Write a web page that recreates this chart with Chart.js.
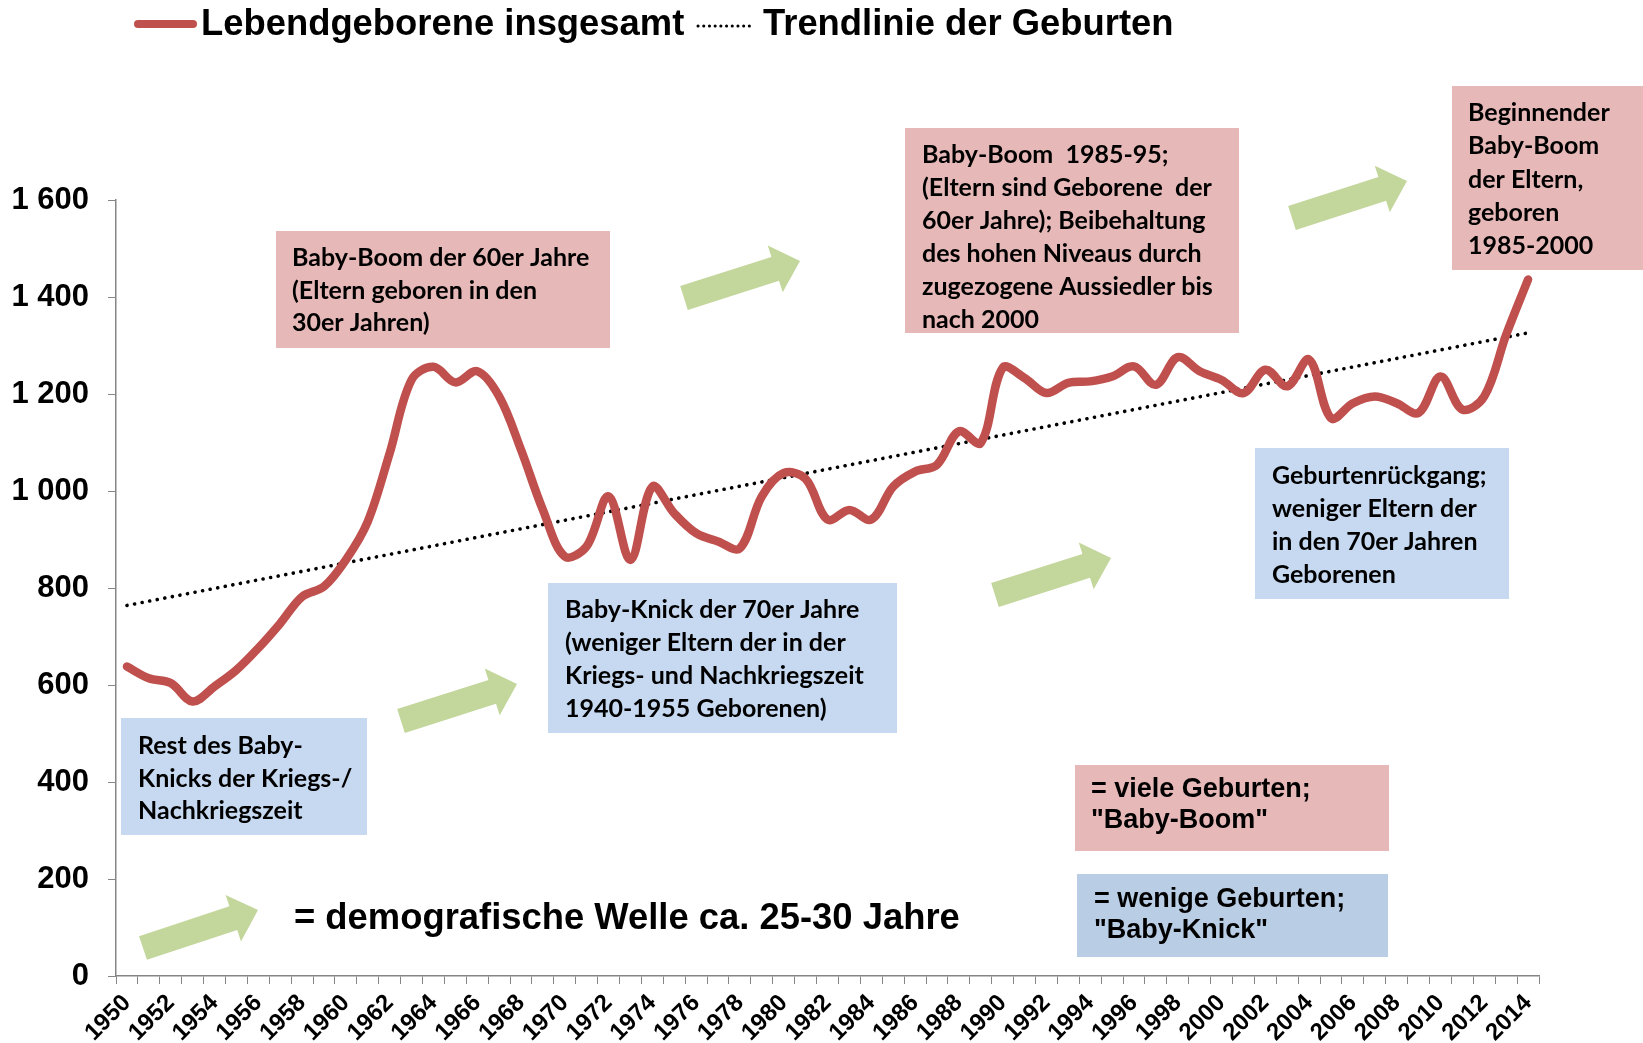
<!DOCTYPE html>
<html lang="de">
<head>
<meta charset="utf-8">
<title>Lebendgeborene 1950-2014</title>
<script src="https://cdn.jsdelivr.net/npm/chart.js@4.4.1/dist/chart.umd.min.js"></script>
<style>
  html, body { margin: 0; padding: 0; background: #fff; }
  #wrap { position: relative; width: 1643px; height: 1043px; }
</style>
</head>
<body>
<div id="wrap"><canvas id="births"></canvas></div>
<script>
// years on the x axis
const years = [
  '1950', '1951', '1952', '1953', '1954', '1955', '1956', '1957', '1958', '1959',
  '1960', '1961', '1962', '1963', '1964', '1965', '1966', '1967', '1968', '1969',
  '1970', '1971', '1972', '1973', '1974', '1975', '1976', '1977', '1978', '1979',
  '1980', '1981', '1982', '1983', '1984', '1985', '1986', '1987', '1988', '1989',
  '1990', '1991', '1992', '1993', '1994', '1995', '1996', '1997', '1998', '1999',
  '2000', '2001', '2002', '2003', '2004', '2005', '2006', '2007', '2008', '2009',
  '2010', '2011', '2012', '2013', '2014'
];

// Lebendgeborene insgesamt
const births = [
  638, 614, 604, 566, 597, 631, 676, 727, 782, 803,
  858, 937, 1078, 1229, 1256, 1224, 1247, 1195, 1085, 961,
  865, 886, 989, 858, 1009, 954, 913, 896, 882, 989,
  1037, 1025, 941, 961, 941, 1009, 1040, 1054, 1123, 1099,
  1254, 1233, 1202, 1223, 1226, 1236, 1257, 1219, 1276, 1247,
  1229, 1202, 1250, 1216, 1271, 1150, 1181, 1195, 1181, 1161,
  1236, 1168, 1195, 1322, 1436
];

// linear trend line, value at 1950 and at 2014
const trendEnds = [764, 1326];

const RED = '#C0504D';
const PINK = '#E6B9B8';
const BLUE = '#C6D9F1';
const BLUE_KEY = '#B9CDE5';
const GREEN = '#C3D69B';
const AXIS = '#868686';
const BOX_FONT = 'bold 25px Lato, "Open Sans", sans-serif';
const KEY_FONT = 'bold 27px "Liberation Sans", Arial, sans-serif';
const BIG_FONT = 'bold 36.4px "Liberation Sans", Arial, sans-serif';

const trend = years.map((y, i) =>
  i === 0 ? trendEnds[0] : i === years.length - 1 ? trendEnds[1] : null);

// text boxes on the chart
const notes = [
  {x: 276, y: 231, w: 334, h: 117, fill: PINK, font: BOX_FONT, tx: 292, base: 266, step: 32.5,
    lines: ['Baby-Boom der 60er Jahre', '(Eltern geboren in den', '30er Jahren)']},
  {x: 905, y: 128, w: 334, h: 205, fill: PINK, font: BOX_FONT, tx: 922, base: 163, step: 33,
    lines: ['Baby-Boom  1985-95;', '(Eltern sind Geborene  der', '60er Jahre); Beibehaltung',
      'des hohen Niveaus durch', 'zugezogene Aussiedler bis', 'nach 2000']},
  {x: 1452, y: 86, w: 191, h: 184, fill: PINK, font: BOX_FONT, tx: 1468, base: 121, step: 33.3,
    lines: ['Beginnender', 'Baby-Boom', 'der Eltern,', 'geboren', '1985-2000']},
  {x: 121, y: 718, w: 246, h: 117, fill: BLUE, font: BOX_FONT, tx: 138, base: 754, step: 32.5,
    lines: ['Rest des Baby-', 'Knicks der Kriegs-/', 'Nachkriegszeit']},
  {x: 548, y: 583, w: 349, h: 150, fill: BLUE, font: BOX_FONT, tx: 565, base: 618, step: 33,
    lines: ['Baby-Knick der 70er Jahre', '(weniger Eltern der in der',
      'Kriegs- und Nachkriegszeit', '1940-1955 Geborenen)']},
  {x: 1255, y: 448, w: 254, h: 151, fill: BLUE, font: BOX_FONT, tx: 1272, base: 484, step: 33,
    lines: ['Geburtenrückgang;', 'weniger Eltern der', 'in den 70er Jahren', 'Geborenen']},
  {x: 1075, y: 765, w: 314, h: 86, fill: PINK, font: KEY_FONT, tx: 1091, base: 797, step: 31,
    lines: ['= viele Geburten;', '"Baby-Boom"']},
  {x: 1077, y: 874, w: 311, h: 83, fill: BLUE_KEY, font: KEY_FONT, tx: 1094, base: 907, step: 31,
    lines: ['= wenige Geburten;', '"Baby-Knick"']}
];

// green arrows: tail x, tail y, tip x, tip y
const arrows = [
  [401, 721, 517, 684],
  [684, 298, 800, 261],
  [995, 595, 1111, 558],
  [1292, 218, 1407, 181],
  [143, 948, 258, 910]
];

const drawArrow = (ctx, x0, y0, x1, y1) => {
  const len = Math.hypot(x1 - x0, y1 - y0);
  const head = 26;
  ctx.save();
  ctx.translate(x0, y0);
  ctx.rotate(Math.atan2(y1 - y0, x1 - x0));
  ctx.beginPath();
  ctx.moveTo(0, -12.5);
  ctx.lineTo(len - head, -12.5);
  ctx.lineTo(len - head, -24.5);
  ctx.lineTo(len, 0);
  ctx.lineTo(len - head, 24.5);
  ctx.lineTo(len - head, 12.5);
  ctx.lineTo(0, 12.5);
  ctx.closePath();
  ctx.fillStyle = GREEN;
  ctx.fill();
  ctx.restore();
};

const overlay = {
  id: 'overlay',
  beforeDatasetsDraw(chart) {
    const ctx = chart.ctx;
    ctx.save();
    ctx.textBaseline = 'alphabetic';
    ctx.textAlign = 'left';
    notes.forEach(n => {
      ctx.fillStyle = n.fill;
      ctx.fillRect(n.x, n.y, n.w, n.h);
      ctx.fillStyle = '#000';
      ctx.font = n.font;
      n.lines.forEach((t, k) => ctx.fillText(t, n.tx, n.base + k * n.step));
    });
    arrows.forEach(a => drawArrow(ctx, ...a));
    ctx.font = BIG_FONT;
    ctx.fillStyle = '#000';
    ctx.fillText('= demografische Welle ca. 25-30 Jahre', 294, 929);
    ctx.restore();
  },
  afterDraw(chart) {
    // legend at the top
    const ctx = chart.ctx;
    const [lineSet, trendSet] = chart.data.datasets;
    ctx.save();
    ctx.lineCap = 'round';
    ctx.strokeStyle = lineSet.borderColor;
    ctx.lineWidth = 8;
    ctx.beginPath();
    ctx.moveTo(138, 24);
    ctx.lineTo(193, 24);
    ctx.stroke();
    ctx.strokeStyle = trendSet.borderColor;
    ctx.lineWidth = 3;
    ctx.setLineDash([0.1, 5.6]);
    ctx.beginPath();
    ctx.moveTo(698, 26);
    ctx.lineTo(752, 26);
    ctx.stroke();
    ctx.setLineDash([]);
    ctx.font = BIG_FONT;
    ctx.fillStyle = '#000';
    ctx.textBaseline = 'alphabetic';
    ctx.fillText(lineSet.label, 201, 35);
    ctx.fillText(trendSet.label, 763, 35);
    ctx.restore();
  }
};

const ctx = document.getElementById('births').getContext('2d');
new Chart(ctx, {
  type: 'line',
  data: {
    labels: years,
    datasets: [
      {
        label: 'Lebendgeborene insgesamt',
        data: births,
        borderColor: RED,
        borderWidth: 8.5,
        borderCapStyle: 'round',
        borderJoinStyle: 'round',
        tension: 0.35,
        pointRadius: 0,
        fill: false,
      },
      {
        label: 'Trendlinie der Geburten',
        data: trend,
        borderColor: '#000',
        borderWidth: 3.6,
        borderDash: [0.1, 7.6],
        borderCapStyle: 'round',
        spanGaps: true,
        tension: 0,
        pointRadius: 0,
        fill: false,
      },
    ],
  },
  options: {
    responsive: true,
    maintainAspectRatio: false,
    animation: false,
    layout: {
      padding: { top: 200, right: 104, bottom: 0, left: 0 },
    },
    plugins: {
      legend: { display: false },
      tooltip: { enabled: false },
    },
    scales: {
      x: {
        offset: true,
        afterFit: scale => { scale.height = 67; },
        grid: {
          offset: true,
          drawOnChartArea: false,
          tickLength: 8,
          color: AXIS,
        },
        border: { color: AXIS, width: 1.5 },
        ticks: {
          autoSkip: false,
          minRotation: 45,
          maxRotation: 45,
          padding: 5,
          color: '#000',
          font: { family: '"Liberation Sans", Arial, sans-serif', size: 24, weight: 'bold' },
          callback: (value, index) => (index % 2 === 0 ? years[index] : ''),
        },
      },
      y: {
        min: 0,
        max: 1600,
        afterFit: scale => { scale.width = 116; },
        grid: {
          drawOnChartArea: false,
          tickLength: 8,
          color: AXIS,
        },
        border: { color: AXIS, width: 1.5 },
        ticks: {
          stepSize: 200,
          padding: 19,
          color: '#000',
          font: { family: '"Liberation Sans", Arial, sans-serif', size: 31, weight: 'bold' },
          callback: value => String(value).replace(/\B(?=(\d{3})+(?!\d))/g, ' '),
        },
      },
    },
  },
  plugins: [overlay],
});
</script>
</body>
</html>
